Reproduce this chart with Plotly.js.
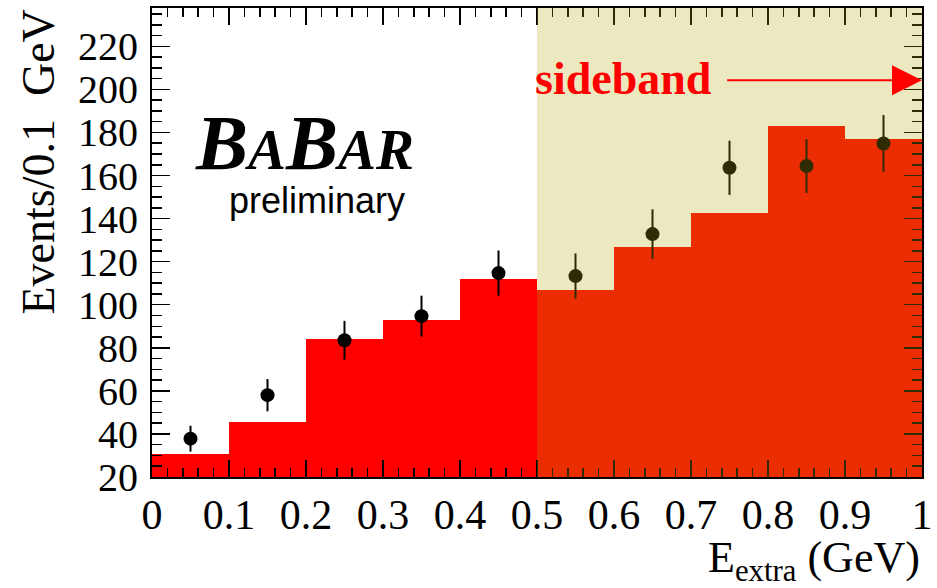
<!DOCTYPE html>
<html>
<head>
<meta charset="utf-8">
<script src="https://cdn.plot.ly/plotly-3.0.1.min.js"></script>
<style>html,body{margin:0;padding:0;background:#fff;}#plot{width:937px;height:588px;}</style>
</head>
<body>
<div id="plot"></div>
<script>
// Histogram (MC expectation), bins of 0.1 GeV
const binCenters = [0.05, 0.15, 0.25, 0.35, 0.45, 0.55, 0.65, 0.75, 0.85, 0.95];
const mcCounts   = [30.5, 45.6, 84.3, 92.8, 111.9, 106.8, 126.7, 142.5, 183.0, 176.8];
// Data points
const dataCounts = [37.8, 58.0, 83.5, 94.7, 114.7, 113.3, 132.8, 163.6, 164.4, 174.9];
const dataErrors = [6.0, 7.5, 9.0, 9.5, 10.5, 10.5, 11.5, 12.6, 12.5, 13.2];
// Sideband region
const sidebandRange = [0.5, 1.0];
const xRange = [0, 1];
const yRange = [20, 237.8];

const serif = "Liberation Serif, Times New Roman, serif";

const traces = [
  {
    type: 'bar', x: binCenters, y: mcCounts, width: 0.1,
    marker: {color: '#ff0000', line: {width: 0}},
    hoverinfo: 'skip', showlegend: false
  },
  {
    type: 'scatter', mode: 'markers', x: binCenters, y: dataCounts,
    marker: {color: '#000000', size: 14},
    error_y: {type: 'data', array: dataErrors, visible: true, color: '#000000', thickness: 2, width: 0},
    showlegend: false
  },
  {
    // empty helper trace so the mirrored (top/right) axes with minor ticks are drawn
    type: 'scatter', mode: 'markers', x: [null], y: [null],
    xaxis: 'x2', yaxis: 'y2', showlegend: false, hoverinfo: 'skip'
  }
];

const majorX = {tick0: 0, dtick: 0.1, ticks: 'inside', ticklen: 17, tickwidth: 1.5, tickcolor: '#000'};
const minorX = {dtick: 0.02, ticks: 'inside', ticklen: 9, tickwidth: 1.5, tickcolor: '#000'};
const majorY = {tick0: 0, dtick: 20, ticks: 'inside', ticklen: 18, tickwidth: 1.5, tickcolor: '#000'};
const minorY = {dtick: 5, ticks: 'inside', ticklen: 10, tickwidth: 1.5, tickcolor: '#000'};

const layout = {
  width: 937, height: 588,
  margin: {l: 152, r: 15, t: 8, b: 111},
  paper_bgcolor: '#ffffff', plot_bgcolor: '#ffffff',
  bargap: 0,
  showlegend: false,
  xaxis: Object.assign({
    range: xRange, tickangle: 0,
    minor: minorX,
    showline: true, linecolor: '#000', linewidth: 2,
    showgrid: false, zeroline: false,
    tickfont: {family: serif, size: 42, color: '#000'}
  }, majorX),
  xaxis2: Object.assign({
    range: xRange, overlaying: 'x', side: 'top', anchor: 'y2',
    minor: minorX, showticklabels: false,
    showline: true, linecolor: '#000', linewidth: 2,
    showgrid: false, zeroline: false
  }, majorX),
  yaxis: Object.assign({
    range: yRange,
    minor: minorY,
    showline: true, linecolor: '#000', linewidth: 2,
    showgrid: false, zeroline: false,
    tickfont: {family: serif, size: 40, color: '#000'},
    ticklabelstandoff: 4
  }, majorY),
  yaxis2: Object.assign({
    range: yRange, overlaying: 'y', side: 'right', anchor: 'x2',
    minor: minorY, showticklabels: false,
    showline: true, linecolor: '#000', linewidth: 2,
    showgrid: false, zeroline: false
  }, majorY),
  shapes: [
    {
      type: 'rect', xref: 'x', yref: 'paper',
      x0: sidebandRange[0], x1: sidebandRange[1], y0: 0, y1: 1,
      fillcolor: 'rgba(182,169,13,0.26)', line: {width: 0}, layer: 'above'
    }
  ],
  annotations: [
    {
      text: 'Events/0.1\u00a0\u00a0GeV', textangle: -90,
      xref: 'paper', yref: 'paper', x: -0.148, y: 1.0,
      xanchor: 'center', yanchor: 'top', showarrow: false,
      font: {family: serif, size: 46, color: '#000'}
    },
    {
      text: 'E<sub>extra</sub> (GeV)',
      xref: 'paper', yref: 'paper', x: 1.0, y: -0.178,
      xanchor: 'right', yanchor: 'middle', showarrow: false,
      font: {family: serif, size: 44, color: '#000'}
    },
    {
      text: '<b><i>B<span style="font-size:57px">A</span>B<span style="font-size:57px">AR</span></i></b>',
      xref: 'paper', yref: 'paper', x: 0.053, y: 0.714,
      xanchor: 'left', yanchor: 'middle', showarrow: false,
      font: {family: serif, size: 78, color: '#000'}
    },
    {
      text: 'preliminary',
      xref: 'paper', yref: 'paper', x: 0.097, y: 0.59,
      xanchor: 'left', yanchor: 'middle', showarrow: false,
      font: {family: 'Liberation Sans, Arial, sans-serif', size: 36, color: '#000'}
    },
    {
      text: '<b>sideband</b>',
      xref: 'paper', yref: 'paper', x: 0.495, y: 0.849,
      xanchor: 'left', yanchor: 'middle', showarrow: false,
      font: {family: serif, size: 46, color: '#ff0000'}
    },
    {
      text: '', xref: 'x', yref: 'y', axref: 'x', ayref: 'y',
      x: 1.0, y: 204.3, ax: 0.745, ay: 204.3,
      showarrow: true, arrowhead: 2, arrowsize: 3, arrowwidth: 2,
      arrowcolor: '#ff0000', standoff: 0
    }
  ]
};

Plotly.newPlot('plot', traces, layout, {displayModeBar: false, staticPlot: true});
</script>
</body>
</html>
